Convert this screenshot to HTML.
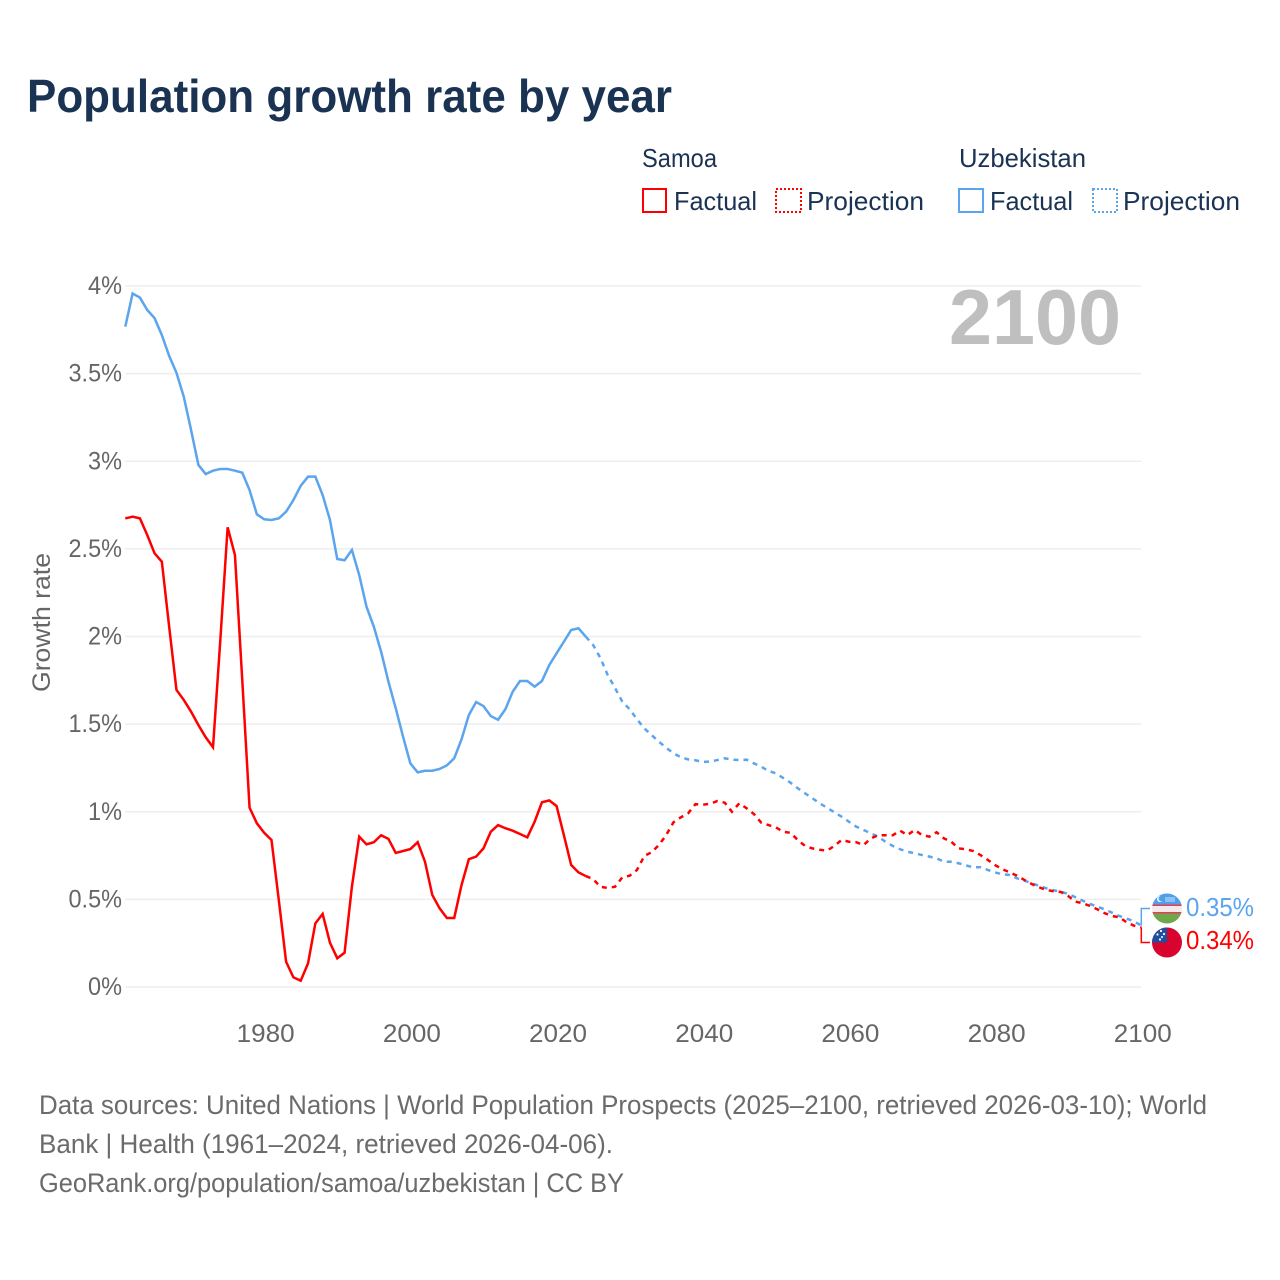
<!DOCTYPE html>
<html lang="en">
<head>
<meta charset="utf-8">
<title>Population growth rate by year</title>
<style>
html,body{margin:0;padding:0;background:#fff;}
svg{display:block;}
text{font-family:"Liberation Sans",sans-serif;}
</style>
</head>
<body>
<svg id="chart" xmlns="http://www.w3.org/2000/svg" width="1280" height="1280" viewBox="0 0 1280 1280">
  <defs>
    <clipPath id="clip-uz"><circle cx="1167" cy="908.5" r="15"/></clipPath>
    <clipPath id="clip-ws"><circle cx="1167" cy="942.5" r="15"/></clipPath>
  </defs>
  <text x="27" y="112" font-size="46" font-weight="700" fill="#1a3353" textLength="645" lengthAdjust="spacingAndGlyphs">Population growth rate by year</text>

  <g font-size="26" fill="#1a3353">
    <text x="642" y="167" textLength="75" lengthAdjust="spacingAndGlyphs">Samoa</text>
    <text x="959" y="167" textLength="127" lengthAdjust="spacingAndGlyphs">Uzbekistan</text>
    <rect x="643" y="189" width="23" height="23" fill="none" stroke="#ff0000" stroke-width="2"/>
    <text x="674" y="210" textLength="83" lengthAdjust="spacingAndGlyphs">Factual</text>
    <rect x="776" y="189" width="25" height="23" fill="none" stroke="#ff0000" stroke-width="2" stroke-dasharray="2 2"/>
    <text x="807" y="210" textLength="117" lengthAdjust="spacingAndGlyphs">Projection</text>
    <rect x="959" y="189" width="24" height="23" fill="none" stroke="#5ba4ee" stroke-width="2"/>
    <text x="990" y="210" textLength="83" lengthAdjust="spacingAndGlyphs">Factual</text>
    <rect x="1093" y="189" width="24" height="23" fill="none" stroke="#5ba4ee" stroke-width="2" stroke-dasharray="2 2"/>
    <text x="1123" y="210" textLength="117" lengthAdjust="spacingAndGlyphs">Projection</text>
  </g>

  <g id="grid"></g>
  <g id="y-ticks"></g>
  <g id="x-ticks"></g>
  <text transform="translate(50,692) rotate(-90)" font-size="25" fill="#666666" textLength="139" lengthAdjust="spacingAndGlyphs">Growth rate</text>
  <text x="949" y="344" font-size="78" font-weight="700" fill="#bfbfbf" textLength="172" lengthAdjust="spacingAndGlyphs">2100</text>
  <g id="series"></g>

  <g clip-path="url(#clip-uz)">
    <rect x="1150" y="893" width="34" height="12" fill="#4f9fec"/>
    <rect x="1150" y="904.5" width="34" height="1.5" fill="#e0405a"/>
    <rect x="1150" y="906" width="34" height="6" fill="#f7e9ea"/>
    <rect x="1150" y="912" width="34" height="1.5" fill="#e0405a"/>
    <rect x="1150" y="913.5" width="34" height="11" fill="#6fa84a"/>
    <circle cx="1160" cy="899" r="3" fill="#ffffff"/>
    <circle cx="1161.2" cy="898.6" r="2.7" fill="#4f9fec"/>
    <rect x="1165" y="897" width="10" height="5" fill="#8fc1f3"/>
  </g>
  <g clip-path="url(#clip-ws)">
    <rect x="1150" y="927" width="34" height="32" fill="#d9042e"/>
    <rect x="1150" y="927" width="17" height="15.5" fill="#1f4f9e"/>
    <circle cx="1161" cy="931" r="1.1" fill="#fff"/>
    <circle cx="1157.5" cy="934.5" r="1.1" fill="#fff"/>
    <circle cx="1164" cy="934" r="1.1" fill="#fff"/>
    <circle cx="1162" cy="937" r="1" fill="#fff"/>
    <circle cx="1160" cy="939.5" r="1.1" fill="#fff"/>
  </g>
  <g id="end-labels"></g>

  <g font-size="27" fill="#6b6b6b">
    <text x="39" y="1114" textLength="1168" lengthAdjust="spacingAndGlyphs">Data sources: United Nations | World Population Prospects (2025–2100, retrieved 2026-03-10); World</text>
    <text x="39" y="1153" textLength="574" lengthAdjust="spacingAndGlyphs">Bank | Health (1961–2024, retrieved 2026-04-06).</text>
    <text x="39" y="1192" textLength="585" lengthAdjust="spacingAndGlyphs">GeoRank.org/population/samoa/uzbekistan | CC BY</text>
  </g>
</svg>
<script>
const firstYear = 1961;
const lastFactualYear = 2024;
const xTickYears = [1980, 2000, 2020, 2040, 2060, 2080, 2100];
const yTickValues = [0, 0.5, 1, 1.5, 2, 2.5, 3, 3.5, 4];
const yTickLabels = ['0%', '0.5%', '1%', '1.5%', '2%', '2.5%', '3%', '3.5%', '4%'];
const samoaRates = [
2.674,2.684,2.674,2.579,2.475,2.427,2.056,1.695,1.638,1.571,
1.495,1.425,1.368,1.980,2.623,2.465,1.752,1.023,0.934,0.880,
0.839,0.496,0.144,0.055,0.036,0.135,0.363,0.417,0.253,0.164,
0.196,0.572,0.858,0.814,0.826,0.866,0.845,0.765,0.776,0.787,
0.826,0.715,0.525,0.449,0.394,0.394,0.582,0.729,0.744,0.791,
0.886,0.924,0.906,0.892,0.873,0.854,0.943,1.054,1.065,1.033,
0.867,0.696,0.654,0.633,
0.616,0.572,0.565,0.572,0.626,0.635,0.668,0.747,0.769,0.810,
0.867,0.940,0.968,0.991,1.043,1.040,1.046,1.061,1.052,1.000,
1.048,1.020,0.987,0.938,0.924,0.911,0.886,0.880,0.839,0.805,
0.791,0.783,0.778,0.805,0.839,0.829,0.826,0.810,0.848,0.866,
0.866,0.866,0.892,0.867,0.896,0.867,0.858,0.883,0.848,0.829,
0.791,0.786,0.776,0.753,0.725,0.696,0.672,0.654,0.635,0.611,
0.588,0.569,0.554,0.546,0.542,0.519,0.487,0.478,0.462,0.443,
0.421,0.405,0.398,0.369,0.350,0.34
];
const uzbekistanRates = [
3.768,3.957,3.934,3.863,3.817,3.720,3.601,3.505,3.368,3.178,
2.979,2.927,2.946,2.956,2.956,2.946,2.935,2.836,2.697,2.669,
2.665,2.674,2.712,2.779,2.860,2.912,2.912,2.807,2.665,2.442,
2.435,2.494,2.351,2.170,2.056,1.913,1.742,1.590,1.428,1.276,
1.225,1.234,1.234,1.244,1.265,1.305,1.413,1.552,1.626,1.603,
1.546,1.525,1.585,1.685,1.746,1.746,1.714,1.746,1.837,1.904,
1.970,2.037,2.047,1.999,
1.952,1.877,1.780,1.706,1.628,1.585,1.528,1.476,1.438,1.400,
1.365,1.334,1.311,1.299,1.294,1.284,1.286,1.295,1.305,1.297,
1.295,1.297,1.276,1.257,1.233,1.219,1.193,1.166,1.134,1.105,
1.077,1.048,1.023,0.997,0.972,0.943,0.915,0.896,0.877,0.858,
0.829,0.805,0.786,0.772,0.763,0.753,0.744,0.734,0.715,0.715,
0.706,0.694,0.683,0.683,0.668,0.654,0.643,0.639,0.620,0.607,
0.592,0.578,0.563,0.552,0.544,0.531,0.512,0.492,0.474,0.458,
0.443,0.424,0.405,0.390,0.375,0.35
];

const SVG_NS = 'http://www.w3.org/2000/svg';
const RED = '#ff0000';
const BLUE = '#5ba4ee';
const xScale = function (year) { return 125.3 + (year - 1961) * (1141.3 - 125.3) / 139; };
const yScale = function (value) { return 987 - value * 175.25; };

function makeEl(tag, parentId) {
  const el = document.createElementNS(SVG_NS, tag);
  document.getElementById(parentId).appendChild(el);
  return el;
}
function labelWidth(label) {
  let w = 0;
  for (const c of label) { w += c === '%' ? 19.5 : (c === '.' ? 5 : 14.5); }
  return w;
}
function pathFor(values, fromYear, toYear) {
  const parts = [];
  for (let yr = fromYear; yr <= toYear; yr++) {
    const v = values[yr - firstYear];
    parts.push((parts.length ? 'L' : 'M') + xScale(yr).toFixed(2) + ' ' + yScale(v).toFixed(2));
  }
  return parts.join(' ');
}

yTickValues.forEach(function (v, i) {
  const line = makeEl('line', 'grid');
  
  
  line.setAttribute('x1', xScale(1961) - 0.3);
  line.setAttribute('x2', xScale(2100));
  line.setAttribute('y1', yScale(v));
  line.setAttribute('y2', yScale(v));
  line.setAttribute('stroke', '#eeeeee');
  line.setAttribute('stroke-width', '1.5');

  const t = makeEl('text', 'y-ticks');
  
  
  t.setAttribute('x', 122);
  t.setAttribute('y', yScale(v) + 8);
  t.setAttribute('text-anchor', 'end');
  t.setAttribute('font-size', '25');
  t.setAttribute('fill', '#666666');
  t.setAttribute('textLength', labelWidth(yTickLabels[i]));
  t.setAttribute('lengthAdjust', 'spacingAndGlyphs');
  t.textContent = yTickLabels[i];
});

xTickYears.forEach(function (yr) {
  const t = makeEl('text', 'x-ticks');
  
  
  t.setAttribute('x', xScale(yr) + 1.5);
  t.setAttribute('y', 1042);
  t.setAttribute('text-anchor', 'middle');
  t.setAttribute('font-size', '25');
  t.setAttribute('fill', '#666666');
  t.setAttribute('textLength', '58');
  t.setAttribute('lengthAdjust', 'spacingAndGlyphs');
  t.textContent = String(yr);
});

function drawLine(values, color, fromYear, toYear, dashed, name) {
  const p = makeEl('path', 'series');
  
  
  p.setAttribute('d', pathFor(values, fromYear, toYear));
  p.setAttribute('fill', 'none');
  p.setAttribute('stroke', color);
  p.setAttribute('stroke-width', '2.5');
  p.setAttribute('stroke-linejoin', 'miter');
  if (dashed) { p.setAttribute('stroke-dasharray', '5 5'); }
}
drawLine(uzbekistanRates, BLUE, firstYear, lastFactualYear, false, 'uzbekistan-factual-line');
drawLine(samoaRates, RED, firstYear, lastFactualYear, false, 'samoa-factual-line');
drawLine(uzbekistanRates, BLUE, lastFactualYear, 2100, true, 'uzbekistan-projection-line');
drawLine(samoaRates, RED, lastFactualYear, 2100, true, 'samoa-projection-line');

function drawEnd(values, color, labelY, flagY, name) {
  const last = values[values.length - 1];
  const c = makeEl('path', 'end-labels');
  
  
  c.setAttribute('d', 'M' + xScale(2100) + ' ' + yScale(last).toFixed(2) + ' V' + flagY + ' H1150');
  c.setAttribute('fill', 'none');
  c.setAttribute('stroke', color);
  c.setAttribute('stroke-width', '1.5');
  const t = makeEl('text', 'end-labels');
  
  
  t.setAttribute('x', 1186);
  t.setAttribute('y', labelY);
  t.setAttribute('font-size', '26');
  t.setAttribute('fill', color);
  t.setAttribute('textLength', '68');
  t.setAttribute('lengthAdjust', 'spacingAndGlyphs');
  t.textContent = last.toFixed(2) + '%';
}
drawEnd(uzbekistanRates, BLUE, 916, 908.5, 'uzbekistan');
drawEnd(samoaRates, RED, 949, 942.5, 'samoa');
</script>
</body>
</html>
